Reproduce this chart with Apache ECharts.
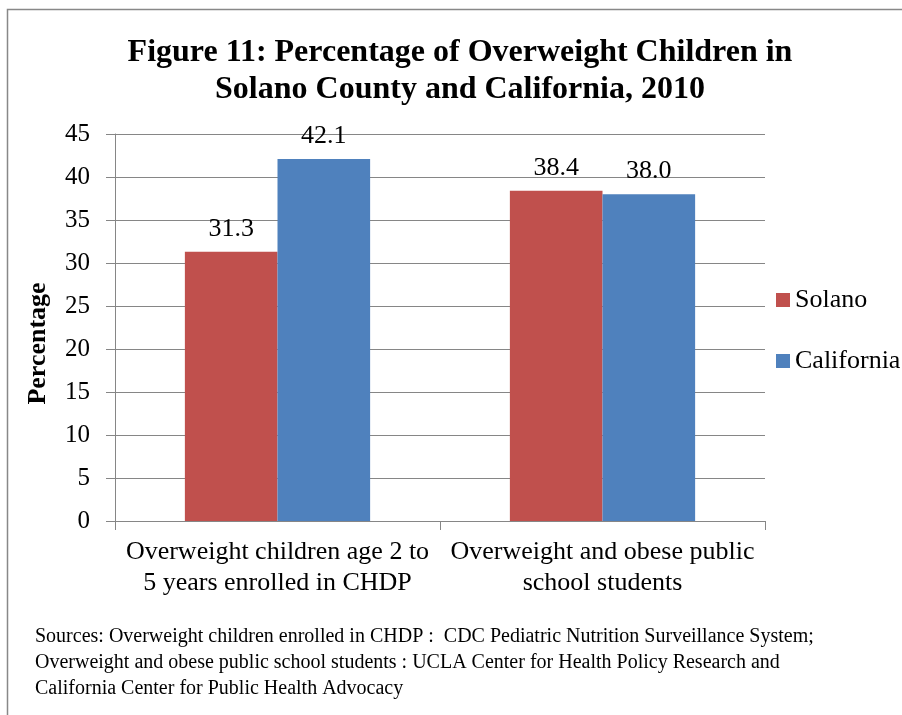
<!DOCTYPE html>
<html><head><meta charset="utf-8">
<script src="https://cdn.jsdelivr.net/npm/echarts@6/dist/echarts.min.js"></script>
<style>html,body{margin:0;padding:0;background:#fff}#c{width:902px;height:715px}</style>
</head><body><div id="c"></div>
<script>
const categories = ['Overweight children age 2 to\n5 years enrolled in CHDP', 'Overweight and obese public\nschool students'];
const solano = [31.3, 38.4];
const california = [42.1, 38.0];
const seriesNames = ['Solano', 'California'];
const titleText = 'Figure 11: Percentage of Overweight Children in\nSolano County and California, 2010';
const sourcesText = ['Sources: Overweight children enrolled in CHDP :  CDC Pediatric Nutrition Surveillance System;',
  'Overweight and obese public school students : UCLA Center for Health Policy Research and',
  'California Center for Public Health Advocacy'];
const F = '"Liberation Serif","Times New Roman",serif';
const chart = echarts.init(document.getElementById('c'));
chart.setOption({
  animation: false,
  textStyle: {fontFamily: F, color: '#000'},
  legend: {
    orient: 'vertical', left: 771, top: 282, itemGap: 35,
    icon: 'rect', itemWidth: 14, itemHeight: 14,
    textStyle: {fontFamily: F, fontSize: 26, color: '#000'},
    data: seriesNames
  },
  grid: {left: 115, right: 137, top: 134, bottom: 194, containLabel: false},
  xAxis: {
    type: 'category', data: categories,
    axisLine: {lineStyle: {color: '#868686'}},
    axisTick: {show: true, length: 9, lineStyle: {color: '#868686'}},
    axisLabel: {fontFamily: F, fontSize: 26, lineHeight: 31, color: '#000', interval: 0, margin: 16}
  },
  yAxis: {
    type: 'value', min: 0, max: 45, interval: 5,
    name: 'Percentage', nameLocation: 'middle', nameGap: 64, nameRotate: 90,
    nameTextStyle: {fontFamily: F, fontWeight: 'bold', fontSize: 26, color: '#000', padding: [0, 32, 0, 0]},
    axisLine: {show: true, lineStyle: {color: '#868686'}},
    axisTick: {show: true, length: 9, lineStyle: {color: '#868686'}},
    splitLine: {lineStyle: {color: '#868686'}},
    axisLabel: {fontFamily: F, fontSize: 25, color: '#000', margin: 25}
  },
  series: [
    {name: seriesNames[0], type: 'bar', data: solano, barCategoryGap: '43%', barGap: '0%',
     itemStyle: {color: '#c0504d'},
     label: {show: true, position: 'top', distance: 10, fontFamily: F, fontSize: 26, color: '#000', formatter: p => p.value.toFixed(1)}},
    {name: seriesNames[1], type: 'bar', data: california, barCategoryGap: '43%', barGap: '0%',
     itemStyle: {color: '#4f81bd'},
     label: {show: true, position: 'top', distance: 10, fontFamily: F, fontSize: 26, color: '#000', formatter: p => p.value.toFixed(1)}}
  ],
  graphic: [
    {type: 'rect', shape: {x: 7.5, y: 9.5, width: 1000, height: 1000}, style: {fill: 'none', stroke: '#888', lineWidth: 1.5}, silent: true},
    {type: 'text', x: 460, y: 34, style: {text: titleText, textAlign: 'center', textVerticalAlign: 'top', fontFamily: F, fontWeight: 'bold', fontSize: 32, lineHeight: 37, fill: '#000'}},
    {type: 'text', left: 35, top: 624, style: {text: sourcesText.join('\n'), fontFamily: F, fontSize: 20, lineHeight: 26, fill: '#000'}}
  ]
});
</script></body></html>
